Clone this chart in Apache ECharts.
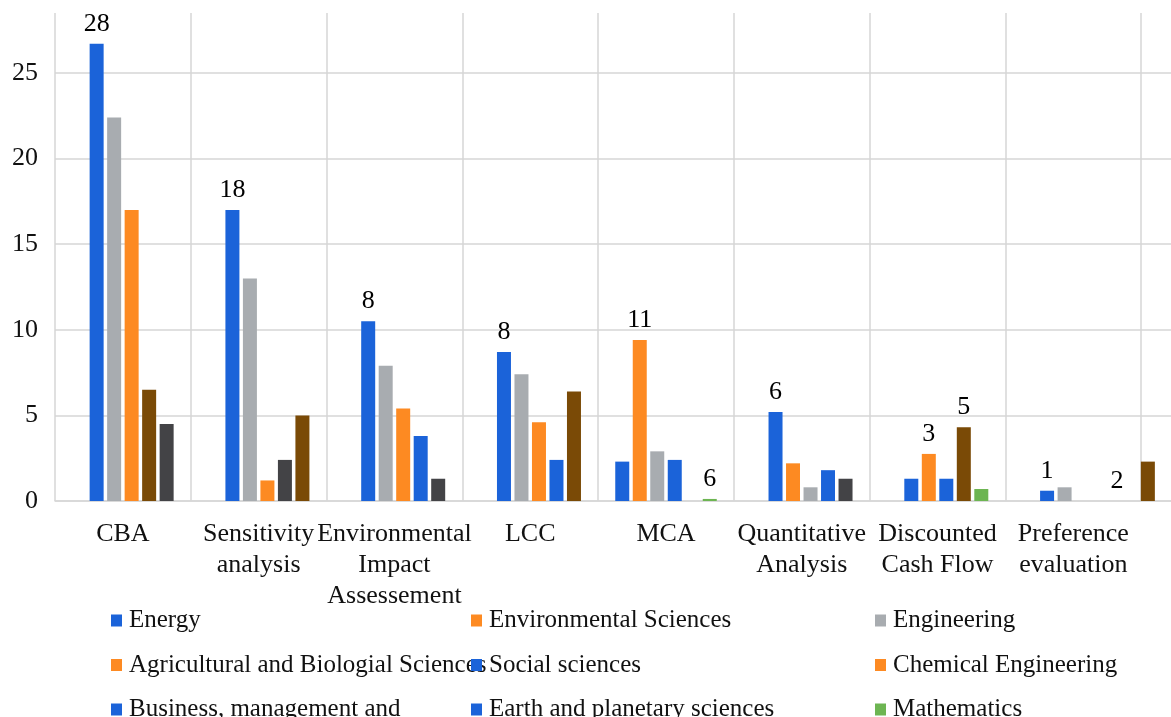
<!DOCTYPE html>
<html>
<head>
<meta charset="utf-8">
<title>Methods by subject area</title>
<script src="https://cdn.jsdelivr.net/npm/echarts@6/dist/echarts.min.js"></script>
<style>
  html, body { margin: 0; padding: 0; background: #ffffff; }
  #chart { width: 1171px; height: 717px; }
</style>
</head>
<body>
<div id="chart"></div>
<script>
// Assessment methods on the category axis (the last slot continues past the right edge)
const categories = [
  'CBA',
  'Sensitivity\nanalysis',
  'Environmental\nImpact\nAssessement',
  'LCC',
  'MCA',
  'Quantitative\nAnalysis',
  'Discounted\nCash Flow',
  'Preference\nevaluation',
  ''
];

// Bar heights, one array per bar slot inside each category group
const slot1Values = [null, null, null, null, null, null, null, null, 2.3];
const slot2Values = [null, null, null, null, 2.3, null, null, null, null];
const slot3Values = [26.7, 17.0, 10.5, 8.7, 9.4, 5.2, 1.3, 0.6, null];
const slot4Values = [22.4, 13.0, 7.9, 7.4, 2.9, 2.2, 2.75, 0.8, null];
const slot5Values = [17.0, 1.2, 5.4, 4.6, 2.4, 0.8, 1.3, null, null];
const slot6Values = [6.5, 2.4, 3.8, 2.4, null, 1.8, 4.3, null, null];
const slot7Values = [4.5, 5.0, 1.3, 6.4, 0.12, 1.3, 0.7, 0, null];
const slot8Values = [null, null, null, null, null, null, null, null, null];

// Colour key of every bar, same layout as the value arrays
const slot1Colors = ['', '', '', '', '', '', '', '', 'brown'];
const slot2Colors = ['', '', '', '', 'blue', '', '', '', ''];
const slot3Colors = ['blue', 'blue', 'blue', 'blue', 'orange', 'blue', 'blue', 'blue', ''];
const slot4Colors = ['gray', 'gray', 'gray', 'gray', 'gray', 'orange', 'orange', 'gray', ''];
const slot5Colors = ['orange', 'orange', 'orange', 'orange', 'blue', 'gray', 'blue', '', ''];
const slot6Colors = ['brown', 'dark', 'blue', 'blue', '', 'blue', 'brown', '', ''];
const slot7Colors = ['dark', 'brown', 'dark', 'brown', 'green', 'dark', 'green', 'blue', ''];
const slot8Colors = ['', '', '', '', '', '', '', '', ''];

// Count annotations written above selected bars
const slot3Notes = ['28', '18', '8', '8', '11', '6', '', '1', ''];
const slot4Notes = ['', '', '', '', '', '', '3', '', ''];
const slot6Notes = ['', '', '', '', '', '', '5', '', ''];
const slot7Notes = ['', '', '', '', '6', '', '', '2', ''];
const emptyNotes = ['', '', '', '', '', '', '', '', ''];

// Value axis ticks
const yMin = 0;
const yMax = 28.5;
const yStep = 5;

// Legend entries (three columns, read top to bottom)
const legendColumn1 = ['Energy', 'Agricultural and Biologial Sciences', 'Business, management and'];
const legendColumn2 = ['Environmental Sciences', 'Social sciences', 'Earth and planetary sciences'];
const legendColumn3 = ['Engineering', 'Chemical Engineering', 'Mathematics'];
const legendColors1 = ['blue', 'orange', 'blue'];
const legendColors2 = ['orange', 'blue', 'blue'];
const legendColors3 = ['gray', 'orange', 'green'];

const palette = {
  blue: '#1b63d9',
  orange: '#fd8a22',
  gray: '#a8acb0',
  brown: '#7a4a06',
  dark: '#434346',
  green: '#6db552'
};

const FONT = "'Liberation Serif', 'Times New Roman', serif";
const GRID_COLOR = '#d6d6d6';

const slots = [
  [slot1Values, slot1Colors, emptyNotes],
  [slot2Values, slot2Colors, emptyNotes],
  [slot3Values, slot3Colors, slot3Notes],
  [slot4Values, slot4Colors, slot4Notes],
  [slot5Values, slot5Colors, emptyNotes],
  [slot6Values, slot6Colors, slot6Notes],
  [slot7Values, slot7Colors, slot7Notes],
  [slot8Values, slot8Colors, emptyNotes]
];

const barSeries = slots.map(function (slot, i) {
  const values = slot[0], colors = slot[1], notes = slot[2];
  return {
    name: 'slot' + (i + 1),
    type: 'bar',
    barWidth: 14,
    barGap: '25%',
    data: values.map(function (v, k) {
      return {
        value: v,
        itemStyle: { color: colors[k] ? palette[colors[k]] : '#000000' }
      };
    }),
    label: {
      show: true,
      position: 'top',
      distance: 7,
      fontFamily: FONT,
      fontSize: 26,
      color: '#000000',
      formatter: function (p) { return notes[p.dataIndex] || ''; }
    },
    silent: true
  };
});

// Legend-only series: they carry the subject names and swatch colours
function legendSeries(names, colorKeys) {
  return names.map(function (n, i) {
    return {
      name: n,
      type: 'scatter',
      data: [],
      itemStyle: { color: palette[colorKeys[i]], opacity: 1 }
    };
  });
}

function legendColumn(names, left) {
  return {
    data: names,
    orient: 'vertical',
    left: left,
    top: 608,
    height: 200,
    width: 380,
    padding: 0,
    icon: 'rect',
    itemWidth: 11,
    itemHeight: 12,
    itemGap: 19.5,
    selectedMode: false,
    itemStyle: { opacity: 1 },
    textStyle: {
      fontFamily: FONT,
      fontSize: 25,
      lineHeight: 24,
      color: '#111111',
      padding: [0, 0, 0, 2]
    }
  };
}

const chart = echarts.init(document.getElementById('chart'), null, { renderer: 'canvas' });

chart.setOption({
  animation: false,
  backgroundColor: '#ffffff',
  // the plot runs one category past the right border of the canvas
  grid: {
    left: 55, top: 13, width: 1222, height: 488,
    containLabel: false,
    outerBoundsMode: 'none'
  },
  legend: [
    legendColumn(legendColumn1, 111),
    legendColumn(legendColumn2, 471),
    legendColumn(legendColumn3, 875)
  ],
  xAxis: {
    type: 'category',
    data: categories,
    boundaryGap: true,
    axisLine: { show: true, lineStyle: { color: GRID_COLOR, width: 1.5 } },
    axisTick: { show: false },
    splitLine: { show: true, lineStyle: { color: GRID_COLOR, width: 1.5 } },
    axisLabel: {
      interval: 0,
      margin: 18,
      fontFamily: FONT,
      fontSize: 26,
      lineHeight: 31,
      color: '#111111',
      align: 'center'
    }
  },
  yAxis: {
    type: 'value',
    min: yMin,
    max: yMax,
    interval: yStep,
    axisLine: { show: false },
    axisTick: { show: false },
    splitLine: {
      show: true,
      showMaxLine: false,
      lineStyle: { color: GRID_COLOR, width: 1.5 }
    },
    axisLabel: {
      showMaxLabel: false,
      margin: 17,
      fontFamily: FONT,
      fontSize: 26,
      color: '#111111'
    }
  },
  series: barSeries
    .concat(legendSeries(legendColumn1, legendColors1))
    .concat(legendSeries(legendColumn2, legendColors2))
    .concat(legendSeries(legendColumn3, legendColors3))
});
</script>
</body>
</html>
